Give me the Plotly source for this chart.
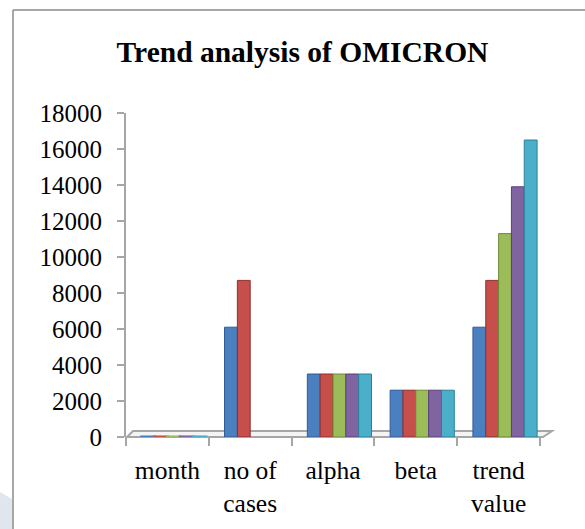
import plotly.graph_objects as go

categories = ["month", "no of<br>cases", "alpha", "beta", "trend<br>value"]
series_names = ["1", "2", "3", "4", "5"]
month = [1, 2, 3, 4, 5]
no_of_cases = [6100, 8700, None, None, None]
alpha = [3500, 3500, 3500, 3500, 3500]
beta = [2600, 2600, 2600, 2600, 2600]
trend_value = [6100, 8700, 11300, 13900, 16500]
y_ticks = [0, 2000, 4000, 6000, 8000, 10000, 12000, 14000, 16000, 18000]
y_tick_labels = [str(v) for v in y_ticks]

colors = ["#4a7fc0", "#c64e4b", "#9cbb59", "#8064a2", "#4bafca"]
edges = ["#2c5d96", "#8f2f2c", "#6f8c35", "#5a3f7c", "#2a8199"]

W, H = 585, 529
L, R, T, B = 126, 45, 113, 92
PW, PH = W - L - R, H - T - B

def px(x):
    return (x - L) / PW

def py(y):
    return (H - B - y) / PH

fig = go.Figure()
width = 0.155
start = -0.31
for i, name in enumerate(series_names):
    vals = [month[i], no_of_cases[i], alpha[i], beta[i], trend_value[i]]
    fig.add_trace(go.Bar(
        x=categories, y=vals, name=name,
        width=width, offset=start + i * width,
        marker=dict(color=colors[i],
                    line=dict(color=[colors[i]] + [edges[i]] * 4, width=[3, 1, 1, 1, 1])),
        showlegend=False,
    ))

shapes = []
# floor
shapes.append(dict(type="path", xref="paper", yref="paper", layer="below",
                   path=f"M {px(127)},{py(437)} L {px(543)},{py(437)} L {px(552)},{py(431)} L {px(133)},{py(431)} Z",
                   line=dict(color="#a6a6a6", width=2), fillcolor="#f4f4f4"))
# page border
shapes.append(dict(type="line", xref="paper", yref="paper", layer="below",
                   x0=px(13), x1=px(13), y0=py(10), y1=py(529),
                   line=dict(color="#8a8a8a", width=1.5)))
shapes.append(dict(type="line", xref="paper", yref="paper", layer="below",
                   x0=px(13), x1=px(585), y0=py(10), y1=py(10),
                   line=dict(color="#8a8a8a", width=1.5)))
shapes.append(dict(type="path", xref="paper", yref="paper", layer="below",
                   path=f"M {px(0)},{py(492)} L {px(12)},{py(499)} L {px(12)},{py(529)} L {px(0)},{py(529)} Z",
                   line=dict(width=0), fillcolor="#dfe6ee"))

font_family = "Times New Roman, Liberation Serif, serif"
fig.update_layout(
    width=W, height=H,
    margin=dict(l=L, r=R, t=T, b=B),
    paper_bgcolor="white", plot_bgcolor="rgba(0,0,0,0)",
    barmode="overlay",
    shapes=shapes,
    title=dict(text="<b>Trend analysis of OMICRON</b>", x=(118 + 487) / 2 / W, xanchor="center",
               y=1 - 52 / H, yanchor="middle",
               font=dict(family=font_family, size=29.5, color="black")),
    font=dict(family=font_family, size=25, color="black"),
)
fig.update_yaxes(range=[0, 18000], tickvals=y_ticks, ticktext=y_tick_labels,
                 showgrid=False, zeroline=False,
                 showline=True, linecolor="#a6a6a6", linewidth=2,
                 ticks="outside", ticklen=7, tickcolor="#a6a6a6", tickwidth=2,
                 ticklabelstandoff=10, tickfont=dict(size=25))
fig.update_xaxes(type="category", range=[-0.5, 4.5], showgrid=False, zeroline=False,
                 showline=False, ticks="outside", tickson="boundaries", ticklen=8,
                 tickcolor="#a6a6a6", tickwidth=2, ticklabelstandoff=15,
                 tickfont=dict(size=25.5))

fig.write_html("out.html", config={"displayModeBar": False},
               post_script="document.body.style.margin='0px';")
